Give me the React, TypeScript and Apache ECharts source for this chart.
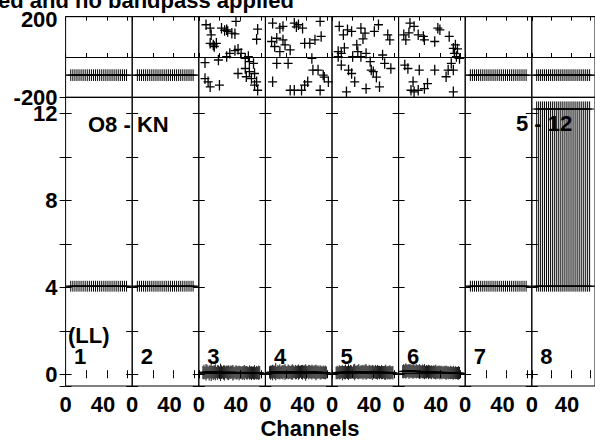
import React, { useEffect, useRef } from 'react';
import * as echarts from 'echarts';

// ---------- data ----------
const panelNames = ['1', '2', '3', '4', '5', '6', '7', '8'];
const X_MIN = 0;
const X_MAX = 64.5;
const PH_MIN = -200;
const PH_MAX = 200;
const AMP_MIN = -0.54;
const AMP_MAX = 12.74;
const xTickLabels = [0, 40];
const ampTickLabels = [0, 4, 8, 12];
const phaseTickLabels = [-200, 200];

// channels sampled every other channel in the flat panels 1, 2, 7, 8
const oddChannels = [5, 7, 9, 11, 13, 15, 17, 19, 21, 23, 25, 27, 29, 31, 33, 35, 37, 39, 41, 43, 45, 47, 49, 51, 53, 55, 57, 59];
// channels of the noisy amplitude panels 3-6
const noiseChannels = [4, 5, 6, 7, 8, 9, 10, 11, 12, 13, 14, 15, 16, 17, 18, 19, 20, 21, 22, 23, 24, 25, 26, 27, 28, 29, 30, 31, 32, 33, 34, 35, 36, 37, 38, 39, 40, 41, 42, 43, 44, 45, 46, 47, 48, 49, 50, 51, 52, 53, 54, 55, 56, 57, 58, 59];

// flat panels: phase / amplitude values and errors
const flatPhase = -90;
const flatPhaseErr = 29;
const flatAmp = 4.05;
const flatAmpErr = 0.25;
const panel8AmpTop = 12.55;
const panel8AmpHigh = 12.2;
const scatterPhaseErr = 26;

// level lines per panel
const phaseLevels: (number | null)[] = [-90, -90, null, null, null, null, -90, -90];
const ampLevels = [4.05, 4.05, 0.04, 0.04, 0.04, 0.04, 4.05, 4.05];

// scattered phases [channel, phase] for panels 3-6
const p3Phase = [[7, 160], [11, 143], [12, 110], [22, 143], [25, 132], [27, 135], [28, 127], [32, 118], [35, 115], [36, 177], [56, 88], [57, 138], [11, 68], [14, 60], [17, 68], [15, 52], [6, -28], [19, -15], [27, 2], [30, 18], [35, 32], [38, 38], [41, 18], [45, -7], [48, 2], [49, -23], [53, -32], [45, -57], [49, -73], [46, -98], [51, -107], [56, -123], [57, -165], [54, -140], [6, -107], [9, -123], [11, -148], [20, -140], [38, -82], [54, -82]];
const p4Phase = [[7, 168], [14, 143], [17, 152], [28, 168], [30, 150], [32, 160], [36, 143], [53, 177], [54, 102], [48, 85], [6, 77], [11, 93], [9, 52], [19, 60], [17, 85], [14, 27], [24, 35], [11, -32], [22, -32], [38, 68], [43, 68], [45, -7], [46, -65], [51, -65], [56, -90], [57, -100], [41, -123], [38, -140], [28, -165], [24, -165], [35, -165], [7, -123], [53, -165], [61, -123]];
const p5Phase = [[7, 152], [11, 110], [15, 135], [19, 127], [28, 143], [32, 118], [41, 127], [45, 160], [54, 110], [56, 85], [6, 27], [9, 18], [12, 45], [24, 60], [25, 27], [28, 2], [30, 90], [33, 18], [37, -23], [40, -73], [49, 10], [51, -32], [57, -57], [9, -40], [16, -65], [19, -82], [22, -123], [14, -173], [33, -157], [46, -148], [38, -65], [20, 2], [6, 2], [43, -100]];
const p6Phase = [[11, 168], [15, 152], [5, 110], [10, 120], [7, 85], [24, 102], [25, 85], [19, 110], [35, 77], [38, 143], [40, 135], [49, 102], [53, 43], [55, 60], [57, 40], [54, 18], [56, 2], [59, -7], [51, -32], [48, -65], [46, -98], [53, -65], [6, -40], [9, -57], [20, -65], [35, -65], [12, -165], [15, -173], [19, -165], [25, -157], [28, -132], [14, -123], [53, -173]];

// noisy amplitudes and their errors for panels 3-6 (channels 4..59)
const p3Amp = [0.08, 0.10, 0.07, 0.09, 0.12, 0.08, 0.06, 0.10, 0.11, 0.09, 0.07, 0.10, 0.09, 0.08, 0.08, 0.11, 0.07, 0.09, 0.10, 0.08, 0.08, 0.06, 0.09, 0.10, 0.07, 0.07, 0.08, 0.09, 0.10, 0.07, 0.06, 0.08, 0.09, 0.07, 0.08, 0.06, 0.08, 0.07, 0.06, 0.08, 0.08, 0.09, 0.07, 0.06, 0.07, 0.08, 0.07, 0.05, 0.07, 0.06, 0.08, 0.06, 0.07, 0.06, 0.07, 0.07];
const p3Err = [0.30, 0.34, 0.28, 0.38, 0.32, 0.27, 0.35, 0.30, 0.42, 0.29, 0.33, 0.31, 0.37, 0.26, 0.34, 0.30, 0.29, 0.40, 0.31, 0.28, 0.33, 0.35, 0.27, 0.30, 0.32, 0.34, 0.28, 0.31, 0.29, 0.36, 0.30, 0.26, 0.33, 0.31, 0.28, 0.34, 0.30, 0.27, 0.32, 0.29, 0.35, 0.28, 0.31, 0.30, 0.26, 0.33, 0.29, 0.32, 0.28, 0.30, 0.34, 0.27, 0.31, 0.29, 0.33, 0.30];
const p4Amp = [0.09, 0.07, 0.10, 0.08, 0.11, 0.09, 0.12, 0.08, 0.10, 0.09, 0.11, 0.08, 0.10, 0.09, 0.12, 0.10, 0.08, 0.09, 0.11, 0.10, 0.09, 0.08, 0.10, 0.11, 0.09, 0.10, 0.08, 0.11, 0.10, 0.09, 0.12, 0.10, 0.09, 0.11, 0.10, 0.08, 0.09, 0.11, 0.10, 0.12, 0.09, 0.10, 0.11, 0.09, 0.10, 0.08, 0.09, 0.10, 0.08, 0.09, 0.07, 0.08, 0.09, 0.07, 0.08, 0.08];
const p4Err = [0.28, 0.33, 0.30, 0.36, 0.29, 0.31, 0.40, 0.27, 0.32, 0.30, 0.35, 0.28, 0.31, 0.33, 0.29, 0.37, 0.30, 0.28, 0.34, 0.31, 0.29, 0.32, 0.36, 0.30, 0.27, 0.33, 0.31, 0.29, 0.35, 0.30, 0.28, 0.32, 0.34, 0.29, 0.31, 0.38, 0.30, 0.27, 0.33, 0.31, 0.29, 0.34, 0.30, 0.28, 0.32, 0.36, 0.29, 0.31, 0.27, 0.33, 0.30, 0.28, 0.31, 0.29, 0.32, 0.28];
const p5Amp = [0.06, 0.08, 0.07, 0.09, 0.08, 0.10, 0.07, 0.09, 0.08, 0.11, 0.09, 0.08, 0.10, 0.09, 0.11, 0.10, 0.08, 0.12, 0.10, 0.09, 0.11, 0.10, 0.12, 0.09, 0.10, 0.11, 0.09, 0.10, 0.12, 0.11, 0.09, 0.10, 0.11, 0.09, 0.10, 0.08, 0.10, 0.09, 0.11, 0.08, 0.09, 0.10, 0.08, 0.09, 0.10, 0.08, 0.09, 0.07, 0.09, 0.08, 0.07, 0.08, 0.09, 0.07, 0.08, 0.07];
const p5Err = [0.29, 0.31, 0.27, 0.33, 0.30, 0.28, 0.35, 0.29, 0.31, 0.34, 0.28, 0.30, 0.36, 0.29, 0.32, 0.30, 0.27, 0.33, 0.38, 0.30, 0.29, 0.32, 0.35, 0.28, 0.31, 0.30, 0.34, 0.29, 0.32, 0.36, 0.30, 0.28, 0.33, 0.31, 0.29, 0.35, 0.30, 0.28, 0.32, 0.30, 0.34, 0.29, 0.31, 0.28, 0.33, 0.30, 0.29, 0.32, 0.35, 0.28, 0.31, 0.29, 0.33, 0.30, 0.28, 0.31];
const p6Amp = [0.12, 0.14, 0.13, 0.15, 0.14, 0.16, 0.13, 0.15, 0.14, 0.13, 0.15, 0.14, 0.12, 0.14, 0.13, 0.12, 0.13, 0.11, 0.12, 0.13, 0.11, 0.12, 0.10, 0.11, 0.12, 0.10, 0.11, 0.10, 0.09, 0.11, 0.10, 0.09, 0.10, 0.08, 0.09, 0.10, 0.08, 0.09, 0.08, 0.07, 0.09, 0.08, 0.07, 0.08, 0.07, 0.06, 0.08, 0.07, 0.06, 0.07, 0.06, 0.07, 0.06, 0.05, 0.06, 0.06];
const p6Err = [0.30, 0.33, 0.29, 0.35, 0.31, 0.28, 0.34, 0.30, 0.32, 0.29, 0.36, 0.31, 0.28, 0.33, 0.30, 0.29, 0.34, 0.31, 0.28, 0.32, 0.30, 0.35, 0.29, 0.31, 0.28, 0.33, 0.30, 0.29, 0.32, 0.27, 0.31, 0.30, 0.34, 0.28, 0.30, 0.29, 0.32, 0.28, 0.31, 0.27, 0.30, 0.29, 0.33, 0.28, 0.30, 0.27, 0.31, 0.29, 0.28, 0.32, 0.27, 0.30, 0.28, 0.29, 0.31, 0.28];

const titleText = 'ed and no bandpass applied';
const xAxisName = 'Channels';
const sourceLabel = 'O8 - KN';
const baselineLabel = '5 - 12';
const polLabel = '(LL)';

// ---------- layout ----------
const LEFT0 = 65.6;
const PW = 66.6;
const PH_TOP = 16.7;
const PH_H = 80.6;
const AMP_TOP = 97.3;
const AMP_H = 288.7;
const FONT = '"Liberation Sans", Arial, Helvetica, sans-serif';
const FS = 22;
const HW = 4.5;

const scatterPhases = [p3Phase, p4Phase, p5Phase, p6Phase];
const noiseAmps = [p3Amp, p4Amp, p5Amp, p6Amp];
const noiseErrs = [p3Err, p4Err, p5Err, p6Err];

function makeCrossRender(width: number) {
  return (params: any, api: any) => {
    const x = api.value(0);
    const y = api.value(1);
    const lo = api.value(2);
    const hi = api.value(3);
    const p = api.coord([x, y]);
    const pt = api.coord([x, hi]);
    const pb = api.coord([x, lo]);
    const st = { stroke: '#000', lineWidth: width, fill: null };
    return {
      type: 'group',
      children: [
        { type: 'line', shape: { x1: p[0] - HW, y1: p[1], x2: p[0] + HW, y2: p[1] }, style: st },
        { type: 'line', shape: { x1: p[0], y1: pt[1], x2: p[0], y2: pb[1] }, style: st },
      ],
    };
  };
}

function buildOption() {
  const grids: any[] = [];
  const xAxes: any[] = [];
  const yAxes: any[] = [];
  const series: any[] = [];
  const lineStyle = { color: '#000', width: 1 };
  const labelFont = { fontSize: FS, fontWeight: 'bold', fontFamily: FONT, color: '#000' };

  for (let i = 0; i < 8; i++) {
    grids.push({ left: LEFT0 + i * PW, top: PH_TOP, width: PW, height: PH_H, show: true, borderColor: '#000', borderWidth: 1, backgroundColor: 'transparent' });
  }
  for (let i = 0; i < 8; i++) {
    grids.push({ left: LEFT0 + i * PW, top: AMP_TOP, width: PW, height: AMP_H, show: true, borderColor: '#000', borderWidth: 1, backgroundColor: 'transparent' });
  }

  const xAxis = (gi: number, pos: string, withLabels: boolean) => ({
    type: 'value', gridIndex: gi, position: pos, min: X_MIN, max: X_MAX, interval: 20,
    axisLine: { show: false },
    axisTick: { show: true, inside: true, length: 4, lineStyle },
    splitLine: { show: false },
    axisLabel: withLabels
      ? {
          show: true, margin: 7, ...labelFont, showMaxLabel: false,
          formatter: (v: number) => (xTickLabels.includes(v) ? (v === 0 ? String(v) : '{s|' + v + '}') : ''),
          rich: { s: { ...labelFont, padding: [0, 8, 0, 0] } },
        }
      : { show: false },
  });
  // 0-7 phase bottom, 8-15 amp bottom, 16-23 phase top, 24-31 amp top
  for (let i = 0; i < 8; i++) xAxes.push(xAxis(i, 'bottom', false));
  for (let i = 0; i < 8; i++) xAxes.push(xAxis(8 + i, 'bottom', true));
  for (let i = 0; i < 8; i++) xAxes.push(xAxis(i, 'top', false));
  for (let i = 0; i < 8; i++) xAxes.push(xAxis(8 + i, 'top', false));

  // 0-7 phase left, 8-15 amp left, 16-23 amp right
  for (let i = 0; i < 8; i++) {
    yAxes.push({
      type: 'value', gridIndex: i, position: 'left', min: PH_MIN, max: PH_MAX, interval: 200,
      axisLine: { show: false }, axisTick: { show: false },
      splitLine: { show: true, lineStyle },
      axisLabel: i === 0
        ? {
            show: true, margin: 8, ...labelFont,
            formatter: (v: number) => (phaseTickLabels.includes(v) ? (v > 0 ? '{t|' + v + '}' : String(v)) : ''),
            rich: { t: { ...labelFont, padding: [5, 0, 0, 0] } },
          }
        : { show: false },
    });
  }
  const ampAxis = (i: number, pos: string) => ({
    type: 'value', gridIndex: 8 + i, position: pos, min: AMP_MIN, max: AMP_MAX,
    splitNumber: 6, minInterval: 2, maxInterval: 2,
    axisLine: { show: false },
    axisTick: { show: true, inside: true, length: 6, lineStyle },
    splitLine: { show: false },
    axisLabel: i === 0 && pos === 'left'
      ? { show: true, margin: 8, ...labelFont, formatter: (v: number) => (ampTickLabels.includes(v) ? String(v) : '') }
      : { show: false },
  });
  for (let i = 0; i < 8; i++) yAxes.push(ampAxis(i, 'left'));
  for (let i = 0; i < 8; i++) yAxes.push(ampAxis(i, 'right'));

  const custom = (xi: number, yi: number, data: number[][], w = 1) => ({
    type: 'custom', coordinateSystem: 'cartesian2d', xAxisIndex: xi, yAxisIndex: yi,
    data, renderItem: makeCrossRender(w), clip: true, silent: true, encode: { x: 0, y: 1 },
  });
  const level = (xi: number, yi: number, v: number) => ({
    type: 'line', xAxisIndex: xi, yAxisIndex: yi, data: [[X_MIN, v], [X_MAX, v]],
    symbol: 'none', silent: true, lineStyle: { color: '#000', width: 1 },
  });

  for (let i = 0; i < 8; i++) {
    const flat = i < 2 || i > 5;
    // phase
    let phData: number[][];
    if (flat) {
      phData = oddChannels.map((c) => [c, flatPhase, flatPhase - flatPhaseErr, flatPhase + flatPhaseErr]);
    } else {
      phData = scatterPhases[i - 2].map(([c, p]) => [c, p, p - scatterPhaseErr, p + scatterPhaseErr]);
    }
    series.push(custom(i, i, phData, flat ? 1 : 1.3));
    const pl = phaseLevels[i];
    if (pl !== null) series.push(level(i, i, pl));

    // amplitude
    let amData: number[][];
    if (flat) {
      const top = i === 7 ? panel8AmpTop : flatAmp + flatAmpErr;
      amData = oddChannels.map((c) => [c, flatAmp, flatAmp - flatAmpErr, top]);
    } else {
      const a = noiseAmps[i - 2];
      const e = noiseErrs[i - 2];
      amData = noiseChannels.map((c, k) => [c, a[k], a[k] - e[k], a[k] + e[k]]);
    }
    series.push(custom(8 + i, 8 + i, amData, flat ? 1 : 0.9));
    if (i === 7) {
      series.push(custom(8 + i, 8 + i, oddChannels.map((c) => [c, panel8AmpHigh, panel8AmpHigh, panel8AmpHigh])));
    }
    series.push(level(8 + i, 8 + i, ampLevels[i]));
  }

  const txt = (text: string, x: number, y: number, align = 'left', size = FS) => ({
    type: 'text', x, y, silent: true, z: 100,
    style: { text, fill: '#000', font: `bold ${size}px ${FONT}`, align, verticalAlign: 'middle' },
  });
  const graphic: any[] = [
    txt(titleText, -2, 0.5),
    txt(xAxisName, 310, 428, 'center'),
    txt(sourceLabel, 88, 124),
    txt(baselineLabel, 516, 123),
    txt(polLabel, 68, 335),
  ];
  panelNames.forEach((n, i) => graphic.push(txt(n, LEFT0 + i * PW + 8.5, 356)));

  return {
    animation: false,
    backgroundColor: '#fff',
    grid: grids,
    xAxis: xAxes,
    yAxis: yAxes,
    series,
    graphic,
  };
}

export default function App() {
  const ref = useRef<HTMLDivElement>(null);
  useEffect(() => {
    if (!ref.current) return;
    const chart = echarts.init(ref.current, undefined, { renderer: 'svg' });
    chart.setOption(buildOption() as any);
    return () => chart.dispose();
  }, []);
  return (
    <div
      ref={ref}
      style={{ position: 'fixed', left: 0, top: 0, width: 595, height: 440, background: '#fff' }}
    />
  );
}
